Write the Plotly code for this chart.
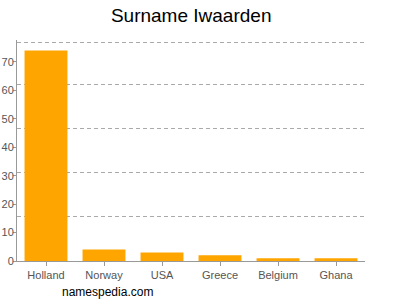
import plotly.graph_objects as go

countries = ["Holland", "Norway", "USA", "Greece", "Belgium", "Ghana"]
counts = [74, 4, 3, 2, 1, 1]
y_ticks = [0, 10, 20, 30, 40, 50, 60, 70]

ymax = max(counts) * 1.05
grid_vals = [ymax * i / 5 for i in range(1, 5)] + [ymax * 0.99]

fig = go.Figure()
# base axis: only carries the dashed gridlines (drawn beneath the bars)
fig.add_trace(go.Scatter(x=countries, y=[None]*len(countries), yaxis="y", showlegend=False))
# bars on overlay axis that carries the tick labels
fig.add_trace(go.Bar(x=countries, y=counts, yaxis="y2",
                     marker=dict(color="#FFA500", line=dict(width=0)),
                     width=0.74, hoverinfo="skip"))

fig.update_layout(
    width=400, height=300,
    margin=dict(l=17, r=35, t=40, b=39),
    paper_bgcolor="white", plot_bgcolor="white",
    showlegend=False,
    title=dict(text="Surname Iwaarden", x=0.478, xanchor="center", y=0.95, yanchor="middle",
               font=dict(family="Liberation Sans, Arial, sans-serif", size=19, color="#000")),
    font=dict(family="Liberation Sans, Arial, sans-serif", size=11, color="#555"),
    xaxis=dict(showline=True, linecolor="#999", linewidth=1, ticks="outside", ticklen=4,
               tickcolor="#999", showgrid=False, tickfont=dict(size=11, color="#555"),
               automargin=False),
    yaxis=dict(range=[0, ymax], tickmode="array", tickvals=grid_vals,
               showgrid=True, gridcolor="#aaa", griddash="4px,3px", gridwidth=1,
               showticklabels=False, ticks="", zeroline=False, showline=False,
               automargin=False),
    yaxis2=dict(overlaying="y", side="left", range=[0, ymax], tickvals=y_ticks, showline=True,
                linecolor="#999", linewidth=1, ticks="outside", ticklen=3, tickcolor="#999",
                showgrid=False, zeroline=False, tickfont=dict(size=11, color="#555"),
                automargin=False, ticklabelstandoff=-3),
    annotations=[dict(text="namespedia.com", xref="paper", yref="paper", x=0.124, y=-0.14,
                      xanchor="left", yanchor="middle", showarrow=False,
                      font=dict(size=12, color="#000"))],
)
fig.write_html("out.html")
